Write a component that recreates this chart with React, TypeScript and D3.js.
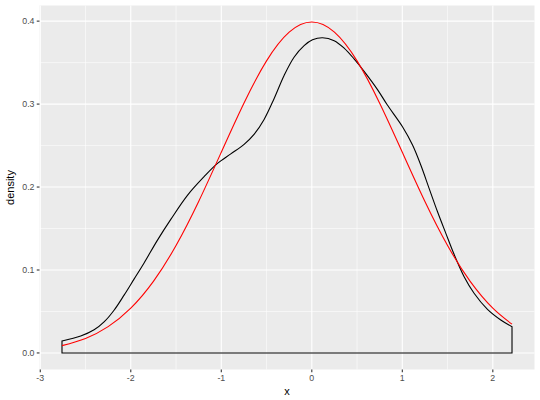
import React from "react";
import * as d3 from "d3";

const densityX = [-2.76, -2.553, -2.405, -2.295, -2.185, -2.074, -1.964, -1.853, -1.705, -1.558, -1.374, -1.19, -1.042, -0.895, -0.748, -0.638, -0.527, -0.417, -0.306, -0.196, -0.085, 0.008, 0.118, 0.247, 0.357, 0.467, 0.578, 0.726, 0.831, 1.002, 1.113, 1.204, 1.296, 1.389, 1.481, 1.572, 1.683, 1.793, 1.941, 2.088, 2.212];
const densityY = [0.0145, 0.0204, 0.0279, 0.0374, 0.0515, 0.0697, 0.089, 0.1085, 0.136, 0.161, 0.19, 0.2125, 0.2285, 0.24, 0.2515, 0.2635, 0.2815, 0.3065, 0.3345, 0.3565, 0.3705, 0.3775, 0.38, 0.3765, 0.3675, 0.3545, 0.3395, 0.3175, 0.2995, 0.2727, 0.2506, 0.2265, 0.1984, 0.1702, 0.1442, 0.1189, 0.092, 0.072, 0.0526, 0.0398, 0.0317];

const normalX = [-2.76, -2.5, -2.25, -2.0, -1.75, -1.5, -1.25, -1.0, -0.75, -0.5, -0.25, 0, 0.25, 0.5, 0.75, 1.0, 1.25, 1.5, 1.75, 2.0, 2.212];
const normalY = [0.0088, 0.0175, 0.0317, 0.054, 0.0863, 0.1295, 0.1826, 0.242, 0.3011, 0.3521, 0.3867, 0.3989, 0.3867, 0.3521, 0.3011, 0.242, 0.1826, 0.1295, 0.0863, 0.054, 0.0347];

const xTicks = [-3, -2, -1, 0, 1, 2];
const xMinor = [-2.5, -1.5, -0.5, 0.5, 1.5];
const yTicks = [0, 0.1, 0.2, 0.3, 0.4];
const yMinor = [0.05, 0.15, 0.25, 0.35];

export default function App() {
  const W = 540, H = 400;
  const left = 39.5, right = 534.5, top = 5.5, bottom = 369.5;
  const x = d3.scaleLinear().domain([-3.0085, 2.4605]).range([left, right]);
  const y = d3.scaleLinear().domain([-0.01995, 0.41885]).range([bottom, top]);

  const dens = densityX.map((v, i) => [v, densityY[i]] as [number, number]);
  const norm = normalX.map((v, i) => [v, normalY[i]] as [number, number]);

  const densLine = d3.line<[number, number]>().x(d => x(d[0])).y(d => y(d[1])).curve(d3.curveCatmullRom.alpha(0.5));
  const normLine = d3.line<[number, number]>().x(d => x(d[0])).y(d => y(d[1])).curve(d3.curveNatural);
  const upper = densLine(dens) || "";
  const x0 = x(densityX[0]), x1 = x(densityX[densityX.length - 1]), y0 = y(0);
  const polyPath = `M${x0},${y0}L` + upper.slice(1) + `L${x1},${y0}Z`;

  const font = "'Liberation Sans', Arial, Helvetica, sans-serif";

  return (
    <svg width={W} height={H} style={{ position: "fixed", left: 0, top: 0, background: "#fff" }}>
      <rect x={left} y={top} width={right - left} height={bottom - top} fill="#EBEBEB" />
      {xMinor.map(v => <line key={"xm" + v} x1={x(v)} x2={x(v)} y1={top} y2={bottom} stroke="#fff" strokeWidth={0.55} />)}
      {yMinor.map(v => <line key={"ym" + v} y1={y(v)} y2={y(v)} x1={left} x2={right} stroke="#fff" strokeWidth={0.55} />)}
      {xTicks.map(v => <line key={"xM" + v} x1={x(v)} x2={x(v)} y1={top} y2={bottom} stroke="#fff" strokeWidth={1.1} />)}
      {yTicks.map(v => <line key={"yM" + v} y1={y(v)} y2={y(v)} x1={left} x2={right} stroke="#fff" strokeWidth={1.1} />)}

      <path d={polyPath} fill="none" stroke="#000" strokeWidth={1.1} />
      <path d={normLine(norm) || ""} fill="none" stroke="#FF0000" strokeWidth={1.1} />

      {xTicks.map(v => (
        <g key={"xt" + v}>
          <line x1={x(v)} x2={x(v)} y1={bottom} y2={bottom + 2.75} stroke="#333" strokeWidth={1.1} />
          <text x={x(v)} y={381} textAnchor="middle" fontFamily={font} fontSize={8.8} fill="#4D4D4D">{v}</text>
        </g>
      ))}
      {yTicks.map(v => (
        <g key={"yt" + v}>
          <line x1={left - 2.75} x2={left} y1={y(v)} y2={y(v)} stroke="#333" strokeWidth={1.1} />
          <text x={left - 5} y={y(v)} dy="0.35em" textAnchor="end" fontFamily={font} fontSize={8.8} fill="#4D4D4D">{v.toFixed(1)}</text>
        </g>
      ))}
      <text x={(left + right) / 2} y={395} textAnchor="middle" fontFamily={font} fontSize={11} fill="#000">x</text>
      <text transform={`translate(13.5,${(top + bottom) / 2}) rotate(-90)`} textAnchor="middle" fontFamily={font} fontSize={11} fill="#000">density</text>
    </svg>
  );
}
